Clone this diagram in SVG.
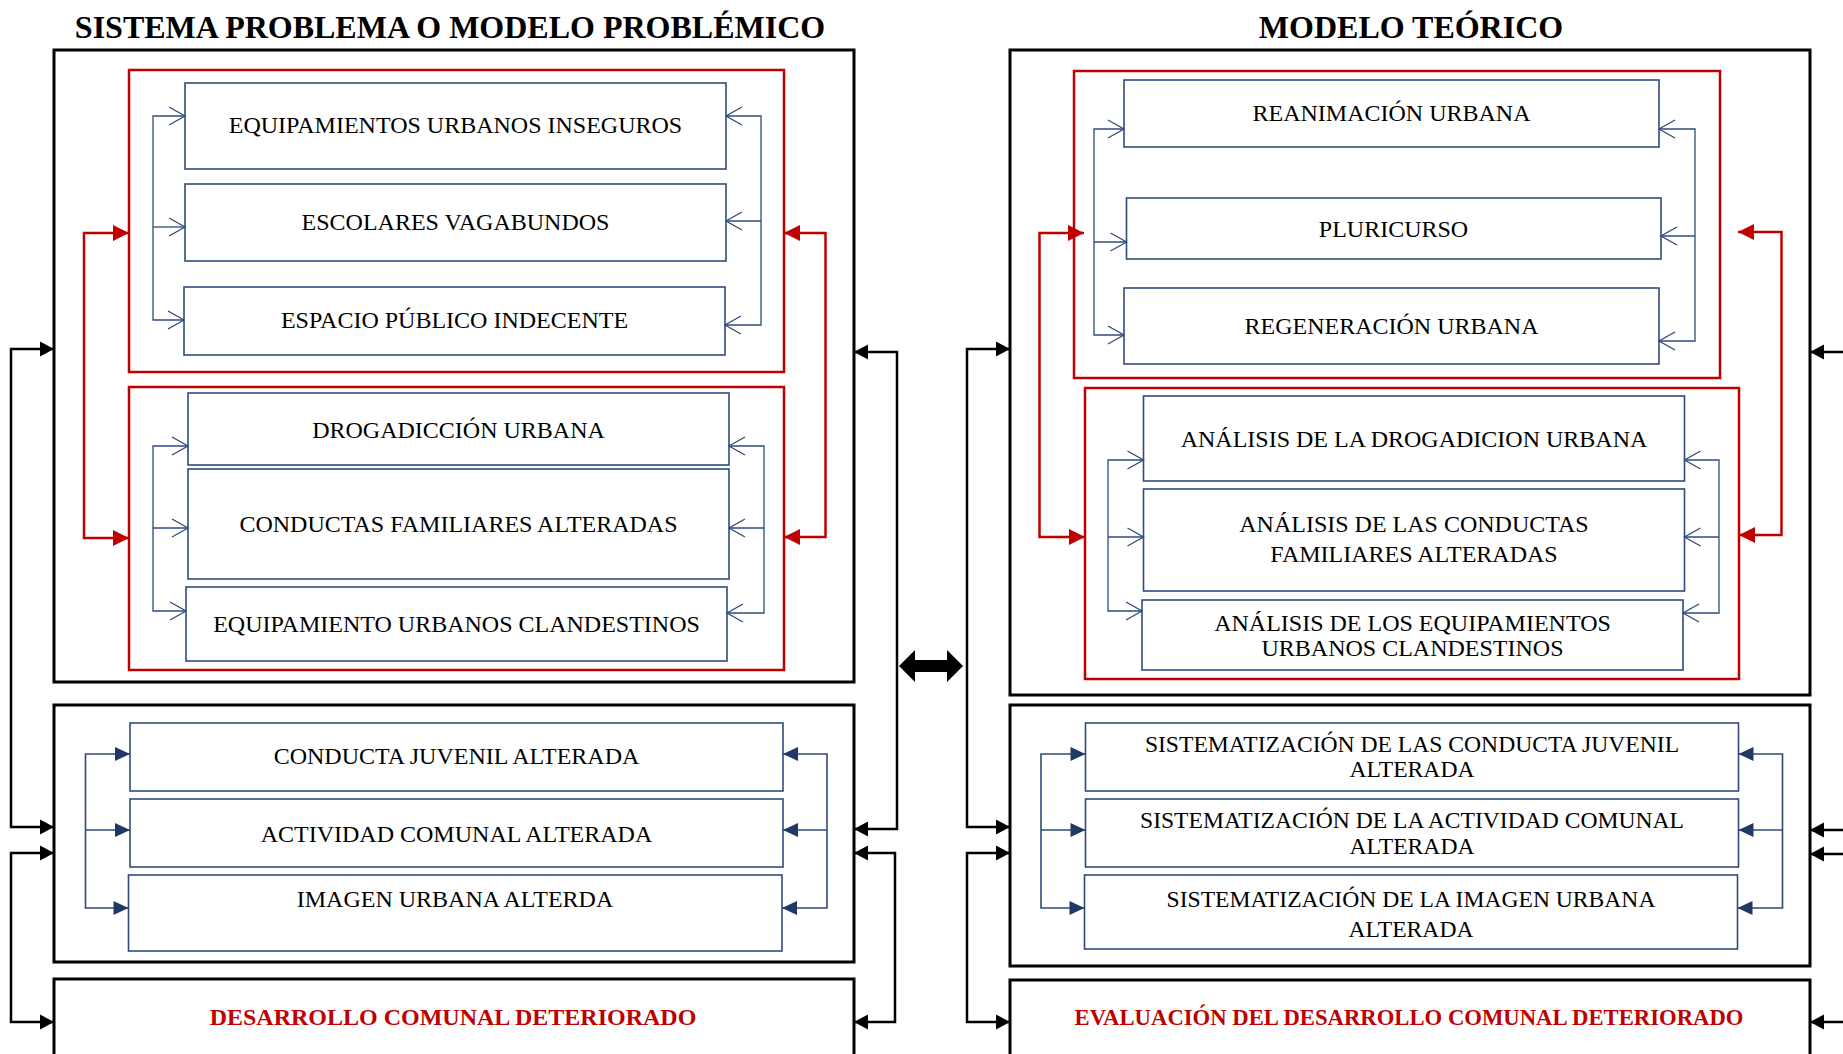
<svg xmlns="http://www.w3.org/2000/svg" width="1843" height="1054" viewBox="0 0 1843 1054">
<style>
  text { font-family: "Liberation Serif", "Times New Roman", serif; fill: #000; text-anchor: middle; }
  .title { font-size: 32px; font-weight: bold; }
  .lbl { font-size: 24px; }
  .lbl2 { font-size: 23.6px; }
  .red-t { font-size: 24px; font-weight: bold; fill: #C00000; }
  .frame { fill: #fff; stroke: #000; stroke-width: 3; }
  .redbox { fill: none; stroke: #C00000; stroke-width: 2.5; }
  .node { fill: #fff; stroke: #2F4B7C; stroke-width: 1.6; }
  .cb { fill: none; stroke: #2F4B7C; stroke-width: 1.3; }
  .cbf { fill: none; stroke: #2F4B7C; stroke-width: 1.6; }
  .cr { fill: none; stroke: #C00000; stroke-width: 2.5; }
  .ck { fill: none; stroke: #000; stroke-width: 2.5; }
</style>
<defs>
  <marker id="openB" markerUnits="userSpaceOnUse" markerWidth="20" markerHeight="22" viewBox="-18 -11 20 22" refX="0" refY="0" orient="auto-start-reverse">
    <path d="M-16,-9 L0,0 L-16,9" fill="none" stroke="#2F4B7C" stroke-width="1.3"/>
  </marker>
  <marker id="fillB" markerUnits="userSpaceOnUse" markerWidth="18" markerHeight="18" viewBox="-16 -9 18 18" refX="0" refY="0" orient="auto-start-reverse">
    <path d="M0,0 L-15,-7 L-15,7 Z" fill="#1F3864"/>
  </marker>
  <marker id="fillR" markerUnits="userSpaceOnUse" markerWidth="20" markerHeight="20" viewBox="-18 -10 20 20" refX="0" refY="0" orient="auto-start-reverse">
    <path d="M0,0 L-16,-8 L-16,8 Z" fill="#C00000"/>
  </marker>
  <marker id="fillK" markerUnits="userSpaceOnUse" markerWidth="18" markerHeight="18" viewBox="-16 -9 18 18" refX="0" refY="0" orient="auto-start-reverse">
    <path d="M0,0 L-14,-7.5 L-14,7.5 Z" fill="#000"/>
  </marker>
</defs>
<rect width="1843" height="1054" fill="#fff"/>

<text class="title" x="450" y="38">SISTEMA PROBLEMA O MODELO PROBLÉMICO</text>
<text class="title" x="1411" y="38">MODELO TEÓRICO</text>

<!-- frames -->
<g id="frame-left-1"><rect class="frame" x="54" y="50" width="800" height="632"/></g>
<g id="frame-left-2"><rect class="frame" x="54" y="705" width="800" height="257"/></g>
<g id="frame-left-3"><rect class="frame" x="54" y="979" width="800" height="100"/>
  <text class="red-t" x="453" y="1025">DESARROLLO COMUNAL DETERIORADO</text></g>
<g id="frame-right-1"><rect class="frame" x="1010" y="50" width="800" height="645"/></g>
<g id="frame-right-2"><rect class="frame" x="1010" y="705" width="800" height="261"/></g>
<g id="frame-right-3"><rect class="frame" x="1010" y="980" width="800" height="100"/>
  <text class="red-t" style="font-size:22.7px" x="1409" y="1025">EVALUACIÓN DEL DESARROLLO COMUNAL DETERIORADO</text></g>

<!-- red groups -->
<g id="group-left-a"><rect class="redbox" x="129" y="70" width="655" height="302"/></g>
<g id="group-left-b"><rect class="redbox" x="129" y="387" width="655" height="283"/></g>
<g id="group-right-a"><rect class="redbox" x="1074" y="71" width="646" height="307"/></g>
<g id="group-right-b"><rect class="redbox" x="1085" y="388" width="654" height="291"/></g>

<!-- left nodes -->
<g id="n-equip-inseguros"><rect class="node" x="185" y="83" width="541" height="86"/><text class="lbl" x="455.5" y="133">EQUIPAMIENTOS URBANOS INSEGUROS</text></g>
<g id="n-escolares"><rect class="node" x="185" y="184" width="541" height="77"/><text class="lbl" x="455.5" y="230">ESCOLARES VAGABUNDOS</text></g>
<g id="n-espacio"><rect class="node" x="184" y="287" width="541" height="68"/><text class="lbl" x="454.5" y="328">ESPACIO PÚBLICO INDECENTE</text></g>
<g id="n-drogadiccion"><rect class="node" x="188" y="393" width="541" height="72"/><text class="lbl" x="458.5" y="438">DROGADICCIÓN URBANA</text></g>
<g id="n-conductas"><rect class="node" x="188" y="469" width="541" height="110"/><text class="lbl" x="458.5" y="532">CONDUCTAS FAMILIARES ALTERADAS</text></g>
<g id="n-clandestinos"><rect class="node" x="186" y="587" width="541" height="74"/><text class="lbl" x="456.5" y="632">EQUIPAMIENTO URBANOS CLANDESTINOS</text></g>
<g id="n-juvenil"><rect class="node" x="130" y="723" width="653" height="68"/><text class="lbl" x="456.5" y="764">CONDUCTA JUVENIL ALTERADA</text></g>
<g id="n-actividad"><rect class="node" x="130" y="799" width="653" height="68"/><text class="lbl" x="456.5" y="842">ACTIVIDAD COMUNAL ALTERADA</text></g>
<g id="n-imagen"><rect class="node" x="128.5" y="875" width="653.5" height="76"/><text class="lbl" x="455" y="907">IMAGEN URBANA ALTERDA</text></g>

<!-- right nodes -->
<g id="n-reanimacion"><rect class="node" x="1124" y="80" width="535" height="67"/><text class="lbl" x="1391.5" y="121">REANIMACIÓN URBANA</text></g>
<g id="n-pluricurso"><rect class="node" x="1126.5" y="198" width="534.5" height="61"/><text class="lbl" x="1393.5" y="237">PLURICURSO</text></g>
<g id="n-regeneracion"><rect class="node" x="1124" y="288" width="535" height="76"/><text class="lbl" x="1391.5" y="334">REGENERACIÓN URBANA</text></g>
<g id="n-an-drog"><rect class="node" x="1143.5" y="396" width="541" height="85"/><text class="lbl" x="1414" y="447">ANÁLISIS DE LA DROGADICION URBANA</text></g>
<g id="n-an-cond"><rect class="node" x="1143.5" y="489" width="541" height="102"/><text class="lbl" x="1414" y="532">ANÁLISIS DE LAS CONDUCTAS</text><text class="lbl" x="1414" y="562">FAMILIARES ALTERADAS</text></g>
<g id="n-an-equip"><rect class="node" x="1142" y="600" width="541" height="70"/><text class="lbl" x="1412.5" y="631">ANÁLISIS DE LOS EQUIPAMIENTOS</text><text class="lbl" x="1412.5" y="656">URBANOS CLANDESTINOS</text></g>
<g id="n-sis-juvenil"><rect class="node" x="1085.5" y="723" width="653" height="68"/><text class="lbl2" x="1412" y="752">SISTEMATIZACIÓN DE LAS CONDUCTA JUVENIL</text><text class="lbl2" x="1412" y="777">ALTERADA</text></g>
<g id="n-sis-actividad"><rect class="node" x="1085.5" y="799" width="653" height="68"/><text class="lbl2" x="1412" y="828">SISTEMATIZACIÓN DE LA ACTIVIDAD COMUNAL</text><text class="lbl2" x="1412" y="854">ALTERADA</text></g>
<g id="n-sis-imagen"><rect class="node" x="1084.5" y="875" width="653" height="74"/><text class="lbl2" x="1411" y="907">SISTEMATIZACIÓN DE LA IMAGEN URBANA</text><text class="lbl2" x="1411" y="937">ALTERADA</text></g>

<!-- connectors -->
<g id="connectors">
  <!-- left panel, group A open blue -->
  <path class="cb" d="M185,116 H153 V320 H184" marker-start="url(#openB)" marker-end="url(#openB)"/>
  <path class="cb" d="M153,227 H185" marker-end="url(#openB)"/>
  <path class="cb" d="M726,116 H761 V325 H725" marker-start="url(#openB)" marker-end="url(#openB)"/>
  <path class="cb" d="M761,221 H726" marker-end="url(#openB)"/>
  <!-- left panel, group B -->
  <path class="cb" d="M188,446 H153 V611 H186" marker-start="url(#openB)" marker-end="url(#openB)"/>
  <path class="cb" d="M153,528 H188" marker-end="url(#openB)"/>
  <path class="cb" d="M729,446 H764 V613 H727" marker-start="url(#openB)" marker-end="url(#openB)"/>
  <path class="cb" d="M764,528 H729" marker-end="url(#openB)"/>
  <!-- left red -->
  <path class="cr" d="M129,233 H84 V538 H129" marker-start="url(#fillR)" marker-end="url(#fillR)"/>
  <path class="cr" d="M784,233 H825.5 V537 H784" marker-start="url(#fillR)" marker-end="url(#fillR)"/>
  <!-- left panel frame 2 filled blue -->
  <path class="cbf" d="M130,754 H85.5 V908 H128.5" marker-start="url(#fillB)" marker-end="url(#fillB)"/>
  <path class="cbf" d="M85.5,830 H130" marker-end="url(#fillB)"/>
  <path class="cbf" d="M783,754 H827 V908 H782" marker-start="url(#fillB)" marker-end="url(#fillB)"/>
  <path class="cbf" d="M827,830 H783" marker-end="url(#fillB)"/>

  <!-- right panel, group A -->
  <path class="cb" d="M1124,129 H1094 V335 H1124" marker-start="url(#openB)" marker-end="url(#openB)"/>
  <path class="cb" d="M1094,242 H1126.5" marker-end="url(#openB)"/>
  <path class="cb" d="M1659,129 H1695 V341 H1659" marker-start="url(#openB)" marker-end="url(#openB)"/>
  <path class="cb" d="M1695,236 H1661" marker-end="url(#openB)"/>
  <!-- right panel, group B -->
  <path class="cb" d="M1143.5,460 H1108 V611 H1142" marker-start="url(#openB)" marker-end="url(#openB)"/>
  <path class="cb" d="M1108,537 H1143.5" marker-end="url(#openB)"/>
  <path class="cb" d="M1684.5,460 H1719 V613 H1683" marker-start="url(#openB)" marker-end="url(#openB)"/>
  <path class="cb" d="M1719,537 H1684.5" marker-end="url(#openB)"/>
  <!-- right red -->
  <path class="cr" d="M1084,233 H1039.5 V537 H1085" marker-start="url(#fillR)" marker-end="url(#fillR)"/>
  <path class="cr" d="M1738,232 H1781.5 V535 H1739" marker-start="url(#fillR)" marker-end="url(#fillR)"/>
  <!-- right panel frame 2 -->
  <path class="cbf" d="M1085.5,754 H1041 V908 H1084.5" marker-start="url(#fillB)" marker-end="url(#fillB)"/>
  <path class="cbf" d="M1041,830 H1085.5" marker-end="url(#fillB)"/>
  <path class="cbf" d="M1738.5,754 H1782.5 V908 H1737.5" marker-start="url(#fillB)" marker-end="url(#fillB)"/>
  <path class="cbf" d="M1782.5,830 H1738.5" marker-end="url(#fillB)"/>

  <!-- black outer connectors -->
  <path class="ck" d="M54,349 H11 V827 H54" marker-start="url(#fillK)" marker-end="url(#fillK)"/>
  <path class="ck" d="M54,853 H11 V1022 H54" marker-start="url(#fillK)" marker-end="url(#fillK)"/>
  <path class="ck" d="M854,352 H897 V829 H854" marker-start="url(#fillK)" marker-end="url(#fillK)"/>
  <path class="ck" d="M854,853 H895 V1022 H854" marker-start="url(#fillK)" marker-end="url(#fillK)"/>
  <path class="ck" d="M1010,349 H967 V827 H1010" marker-start="url(#fillK)" marker-end="url(#fillK)"/>
  <path class="ck" d="M1010,853 H967 V1022 H1010" marker-start="url(#fillK)" marker-end="url(#fillK)"/>
  <path class="ck" d="M1843,352 H1810" marker-end="url(#fillK)"/>
  <path class="ck" d="M1843,830 H1810" marker-end="url(#fillK)"/>
  <path class="ck" d="M1843,854 H1810" marker-end="url(#fillK)"/>
  <path class="ck" d="M1843,1022 H1810" marker-end="url(#fillK)"/>
  <!-- double arrow between models -->
  <polygon points="899,666 915,650 915,660 947,660 947,650 963,666 947,682 947,672 915,672 915,682" fill="#000"/>
</g>
</svg>
